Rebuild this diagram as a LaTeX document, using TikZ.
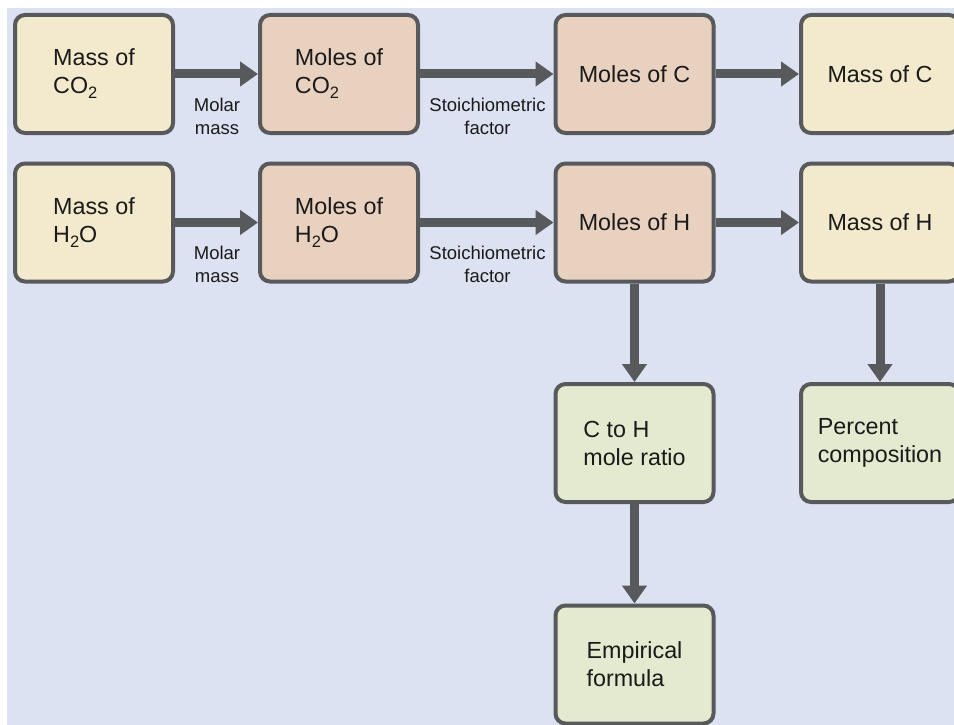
\documentclass[tikz,border=0pt]{standalone}
\usepackage{fontspec}
\setmainfont{Liberation Sans}
\usetikzlibrary{arrows.meta}
\definecolor{bgblue}{HTML}{DDE2F2}
\definecolor{boxyellow}{HTML}{F3E9CC}
\definecolor{boxpink}{HTML}{E9D1C0}
\definecolor{boxgreen}{HTML}{E3EAD0}
\definecolor{edgegray}{HTML}{58595B}
\definecolor{inkblack}{HTML}{1A1A1A}
\newcommand{\chemsub}[1]{\raisebox{-5pt}{\fontsize{16.5}{16.5}\selectfont #1}}
\begin{document}
\begin{tikzpicture}[x=1pt,y=-1pt,
  box/.style={draw=edgegray, line width=4pt, rounded corners=10pt,
    minimum width=158pt, minimum height=118pt, align=left, inner sep=0pt,
    font=\fontsize{23.3}{28}\selectfont, text=inkblack},
  ybox/.style={box, fill=boxyellow},
  pbox/.style={box, fill=boxpink},
  gbox/.style={box, fill=boxgreen},
  flow/.style={draw=edgegray, line width=9pt, -{Triangle[length=18pt,width=24pt]}},
  steplabel/.style={align=center, inner sep=0pt,
    font=\fontsize{18.5}{23}\selectfont, text=inkblack}]
\useasboundingbox (0,0) rectangle (954,725);
\clip (0,0) rectangle (954,725);
\fill[bgblue] (7,8) rectangle (954,725);

% row 1
\node[ybox] (massco2) at (94,74) {Mass of\\CO\chemsub{2}};
\node[pbox] (molco2) at (339,74) {Moles of\\CO\chemsub{2}};
\node[pbox] (molc) at (634.5,74) {Moles of C};
\node[ybox] (massc) at (880,74) {Mass of C};
% row 2
\node[ybox] (massh2o) at (94,222.5) {Mass of\\H\chemsub{2}O};
\node[pbox] (molh2o) at (339,222.5) {Moles of\\H\chemsub{2}O};
\node[pbox] (molh) at (634.5,222.5) {Moles of H};
\node[ybox] (massh) at (880,222.5) {Mass of H};
% row 3, 4
\node[gbox] (ratio) at (634.5,443) {C to H\\mole ratio};
\node[gbox] (percent) at (880,443) {Percent\\composition};
\node[gbox] (empirical) at (634.5,664.5) {Empirical\\formula};

% connectors
\draw[flow] (massco2) -- (molco2);
\draw[flow] (molco2) -- (molc);
\draw[flow] (molc) -- (massc);
\draw[flow] (massh2o) -- (molh2o);
\draw[flow] (molh2o) -- (molh);
\draw[flow] (molh) -- (massh);
\draw[flow] (molh) -- (ratio);
\draw[flow] (massh) -- (percent);
\draw[flow] (ratio) -- (empirical);

% labels
\node[steplabel] (lab1) at (217,116) {Molar\\mass};
\node[steplabel] (lab2) at (487.5,116) {Stoichiometric\\factor};
\node[steplabel] (lab3) at (217,264.5) {Molar\\mass};
\node[steplabel] (lab4) at (487.5,264.5) {Stoichiometric\\factor};
\end{tikzpicture}
\end{document}
